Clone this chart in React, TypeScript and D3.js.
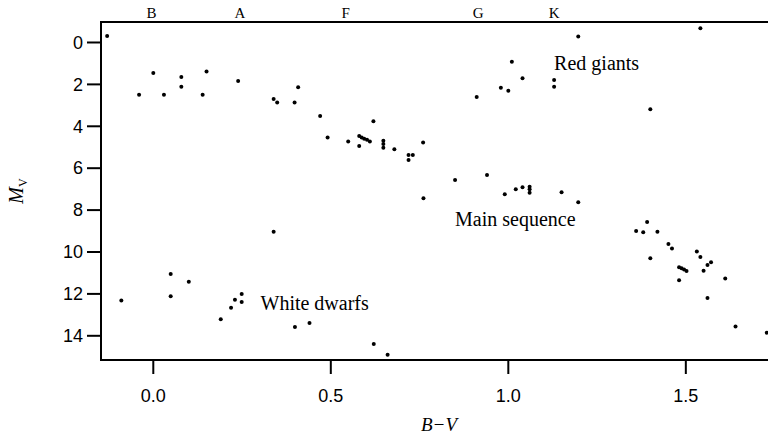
import React from "react";
import * as d3 from "d3";

// [B-V, M_V]
const mainSequence: [number, number][] = [
  [-0.13, -0.31], [-0.04, 2.49], [0.0, 1.46], [0.03, 2.49], [0.079, 1.65], [0.079, 2.11],
  [0.139, 2.49], [0.15, 1.39], [0.239, 1.84], [0.339, 2.7], [0.349, 2.86], [0.398, 2.87],
  [0.408, 2.14], [0.47, 3.51], [0.491, 4.53], [0.62, 3.76], [0.549, 4.73], [0.58, 4.46],
  [0.587, 4.53], [0.594, 4.59], [0.602, 4.64], [0.61, 4.72], [0.58, 4.94], [0.648, 4.69],
  [0.648, 4.85], [0.648, 5.02], [0.679, 5.1], [0.719, 5.37], [0.731, 5.37], [0.719, 5.61],
  [0.76, 4.77], [0.761, 7.44], [0.85, 6.56], [0.94, 6.32], [0.99, 7.24], [1.021, 7.0],
  [1.04, 6.91], [1.06, 6.88], [1.06, 7.01], [1.06, 7.17], [1.15, 7.15], [1.197, 7.63],
  [1.36, 9.0], [1.38, 9.06], [1.391, 8.57], [1.42, 9.03], [1.4, 10.3], [1.451, 9.62],
  [1.461, 9.83], [1.481, 10.73], [1.488, 10.78], [1.495, 10.84], [1.502, 10.91],
  [1.481, 11.35], [1.531, 9.98], [1.541, 10.24], [1.55, 10.89], [1.561, 10.62],
  [1.571, 10.49], [1.561, 12.2], [1.611, 11.27], [1.64, 13.56], [1.728, 13.85], [0.339, 9.03],
];

const redGiants: [number, number][] = [
  [0.911, 2.6], [0.979, 2.16], [1.0, 2.3], [1.01, 0.92], [1.04, 1.71], [1.129, 1.79],
  [1.129, 2.11], [1.197, -0.28], [1.541, -0.68], [1.4, 3.19],
];

const whiteDwarfs: [number, number][] = [
  [-0.09, 12.32], [0.049, 11.05], [0.049, 12.11], [0.1, 11.42], [0.19, 13.21],
  [0.219, 12.66], [0.23, 12.28], [0.249, 12.0], [0.249, 12.39], [0.399, 13.58],
  [0.44, 13.39], [0.621, 14.39], [0.66, 14.9],
];

const xTicks = [0.0, 0.5, 1.0, 1.5];
const yTicks = [0, 2, 4, 6, 8, 10, 12, 14];

const spectralClasses = ["B", "A", "F", "G", "K"];
const spectralPositions = [-0.005, 0.244, 0.542, 0.915, 1.129];

const regionLabels = ["Red giants", "Main sequence", "White dwarfs"];
const regionLabelPos: [number, number][] = [[1.129, 1.32], [0.85, 8.75], [0.302, 12.75]];

export default function App() {
  const left = 101, right = 776, top = 22, bottom = 360;
  const x = d3.scaleLinear().domain([-0.1473, 1.754]).range([left, right]);
  const y = d3.scaleLinear().domain([-0.978, 15.155]).range([top, bottom]);
  const allPoints = [...mainSequence, ...redGiants, ...whiteDwarfs];
  const serif = "'Liberation Serif', 'Times New Roman', serif";
  const sans = "'Liberation Sans', Arial, sans-serif";

  return (
    <svg width={768} height={434} style={{ position: "absolute", left: 0, top: 0, background: "#fff" }}>
      <rect x={0} y={0} width={768} height={434} fill="#fff" />
      {/* frame */}
      <path
        d={`M${right + 10},${top}H${left}V${bottom}H${right + 10}`}
        fill="none"
        stroke="#000"
        strokeWidth={2}
      />
      {/* y ticks */}
      {yTicks.map((t) => (
        <g key={"y" + t}>
          <line x1={left - 14} x2={left} y1={y(t)} y2={y(t)} stroke="#000" strokeWidth={2} />
          <text x={left - 18} y={y(t)} dy="0.35em" textAnchor="end" fontFamily={sans} fontSize={18}>
            {t}
          </text>
        </g>
      ))}
      {/* x ticks */}
      {xTicks.map((t) => (
        <g key={"x" + t}>
          <line x1={x(t)} x2={x(t)} y1={bottom} y2={bottom + 14} stroke="#000" strokeWidth={2} />
          <text x={x(t)} y={bottom + 42} textAnchor="middle" fontFamily={sans} fontSize={18}>
            {d3.format(".1f")(t)}
          </text>
        </g>
      ))}
      {/* spectral classes */}
      {spectralClasses.map((c, i) => (
        <text key={c} x={x(spectralPositions[i])} y={18} textAnchor="middle" fontFamily={serif} fontSize={15}>
          {c}
        </text>
      ))}
      {/* points */}
      {allPoints.map((p, i) => (
        <circle key={i} cx={x(p[0])} cy={y(p[1])} r={2} fill="#000" />
      ))}
      {/* region labels */}
      {regionLabels.map((l, i) => (
        <text key={l} x={x(regionLabelPos[i][0])} y={y(regionLabelPos[i][1])} fontFamily={serif} fontSize={20}>
          {l}
        </text>
      ))}
      {/* axis titles */}
      <text x={439} y={431} textAnchor="middle" fontFamily={serif} fontStyle="italic" fontSize={19}>
        B−V
      </text>
      <text
        transform={`translate(23,${(top + bottom) / 2}) rotate(-90)`}
        textAnchor="middle"
        fontFamily={serif}
        fontStyle="italic"
        fontSize={20}
      >
        M<tspan fontSize={12} dy={4} fontStyle="normal">V</tspan>
      </text>
    </svg>
  );
}
